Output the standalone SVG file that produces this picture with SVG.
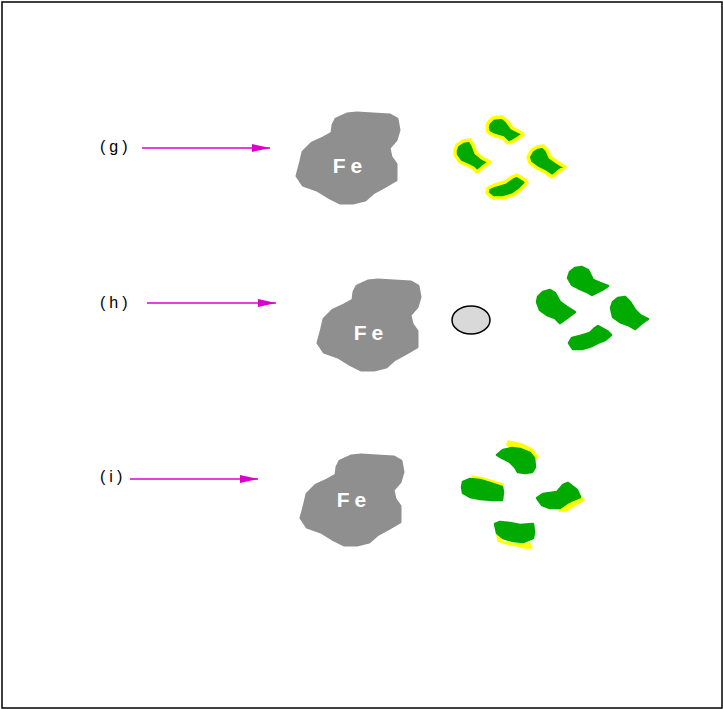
<svg xmlns="http://www.w3.org/2000/svg" width="723" height="709" viewBox="0 0 723 709">
  <defs>
    <style>
      .frame { fill: #ffffff; stroke: #000000; stroke-width: 1.5; }
      .label { font-family: "Liberation Sans", Arial, sans-serif; font-size: 16px; letter-spacing: 4px; fill: #000000; }
      .iron { fill: #8f8f8f; stroke: #8f8f8f; stroke-width: 3; stroke-linejoin: round; }
      .fe { font-family: "Liberation Sans", Arial, sans-serif; font-size: 21px; font-weight: bold; letter-spacing: 5px; fill: #ffffff; text-anchor: middle; }
      .grain { fill: #00aa00; stroke: #00aa00; stroke-width: 2.5; stroke-linejoin: round; }
      .coated { fill: #00aa00; stroke: #ffff00; stroke-width: 3.5; stroke-linejoin: round; }
      .film { fill: #ffff00; stroke: #ffff00; stroke-width: 1.5; stroke-linejoin: round; }
      .arrow { stroke: #dd00cc; stroke-width: 1.5; fill: none; }
      .bubble { fill: #d9d9d9; stroke: #000000; stroke-width: 1.5; }
    </style>
    <marker id="head" viewBox="0 0 18 8" refX="18" refY="4" markerWidth="18" markerHeight="8" markerUnits="userSpaceOnUse" orient="auto">
      <path d="M0,0 L18,4 L0,8 Z" fill="#dd00cc"/>
    </marker>
    <!-- irregular iron particle outline -->
    <path id="ironShape" d="M333,125 L336,119 L347,114 L357,113 L373,114 L390,115 L397,119 L399,130 L396,140 L389,148 L391,157 L396,164 L396,180 L384,187 L373,193 L365,200 L353,203 L340,203 L330,198 L317,190 L303,185 L297,176 L300,165 L303,152 L312,143 L323,138 L332,133 Z"/>
  </defs>

  <rect class="frame" x="2" y="2" width="720" height="706"/>

  <!-- row labels -->
  <g id="labels">
    <text class="label" x="100" y="152">(g)</text>
    <text class="label" x="100" y="308">(h)</text>
    <text class="label" x="100" y="482">(i)</text>
  </g>

  <!-- connectors -->
  <g id="connectors">
    <line class="arrow" x1="142" y1="148" x2="270" y2="148" marker-end="url(#head)"/>
    <line class="arrow" x1="147" y1="303" x2="276" y2="303" marker-end="url(#head)"/>
    <line class="arrow" x1="130" y1="479" x2="258" y2="479" marker-end="url(#head)"/>
  </g>

  <!-- row g: iron particle and coated grains -->
  <g id="iron-g">
    <use href="#ironShape" class="iron"/>
    <text class="fe" x="350" y="173">Fe</text>
  </g>
  <g id="grains-g">
    <path class="coated" d="M488,123 L493,118 L502,117 L507,121 L512,128 L522,133 L523,135 L512,142 L508,143 L503,138 L493,135 L488,132 L487,127 Z"/>
    <path class="coated" d="M457,145 L463,141 L470,140 L473,145 L476,153 L482,158 L490,162 L483,167 L477,172 L473,168 L467,165 L460,162 L455,155 L455,150 Z"/>
    <path class="coated" d="M532,150 L537,147 L543,146 L547,150 L550,157 L557,162 L565,167 L558,172 L552,177 L545,172 L537,168 L530,163 L528,157 Z"/>
    <path class="coated" d="M488,188 L495,185 L505,182 L512,177 L517,175 L525,180 L527,183 L520,190 L513,195 L503,198 L493,198 L487,193 Z"/>
  </g>

  <!-- row h: iron particle, gas bubble and bare grains -->
  <g id="iron-h" transform="translate(21,167)">
    <use href="#ironShape" class="iron"/>
    <text class="fe" x="350" y="173">Fe</text>
  </g>
  <g id="bubble-h">
    <ellipse class="bubble" cx="471" cy="320" rx="19" ry="14"/>
  </g>
  <g id="grains-h">
    <path class="grain" d="M570,272 L575,268 L582,267 L588,270 L593,280 L600,283 L608,286 L602,290 L592,295 L587,292 L578,288 L572,285 L568,278 Z"/>
    <path class="grain" d="M538,297 L543,292 L550,290 L555,293 L560,302 L567,307 L575,312 L567,318 L560,323 L555,318 L547,315 L540,310 L537,302 Z"/>
    <path class="grain" d="M613,302 L618,298 L625,297 L630,302 L635,310 L640,315 L648,319 L642,323 L635,329 L628,325 L620,322 L613,317 L611,308 Z"/>
    <path class="grain" d="M572,338 L580,336 L590,333 L595,328 L598,326 L607,331 L611,335 L605,340 L600,342 L592,346 L582,349 L573,349 L569,343 Z"/>
  </g>

  <!-- row i: iron particle and partly coated grains -->
  <g id="iron-i" transform="translate(4,342)">
    <use href="#ironShape" class="iron"/>
    <text class="fe" x="350" y="165">Fe</text>
  </g>
  <g id="grains-i">
    <path class="film" d="M508,441 L522,444 L532,449 L538,457 L534,460 L530,453 L520,449 L510,448 L507,445 Z"/>
    <path class="grain" d="M497,455 L503,450 L512,448 L520,449 L530,453 L534,458 L535,467 L532,472 L525,473 L518,472 L515,467 L510,462 L502,458 Z"/>
    <path class="film" d="M472,476 L483,478 L493,481 L503,484 L503,487 L493,485 L483,482 L473,480 Z"/>
    <path class="grain" d="M463,482 L470,479 L480,480 L490,483 L502,487 L503,492 L502,500 L493,500 L480,499 L470,497 L463,493 L462,487 Z"/>
    <path class="film" d="M560,507 L570,500 L579,494 L584,500 L574,506 L566,511 L559,511 Z"/>
    <path class="grain" d="M537,498 L543,494 L557,492 L563,485 L568,483 L577,490 L580,497 L573,500 L567,503 L560,508 L550,508 L542,505 Z"/>
    <path class="film" d="M497,535 L503,542 L517,544 L530,543 L532,548 L525,548 L517,546 L507,544 L498,541 Z"/>
    <path class="grain" d="M495,524 L500,522 L510,523 L520,525 L533,524 L534,532 L533,538 L523,542 L513,541 L503,538 L497,533 Z"/>
  </g>
</svg>
